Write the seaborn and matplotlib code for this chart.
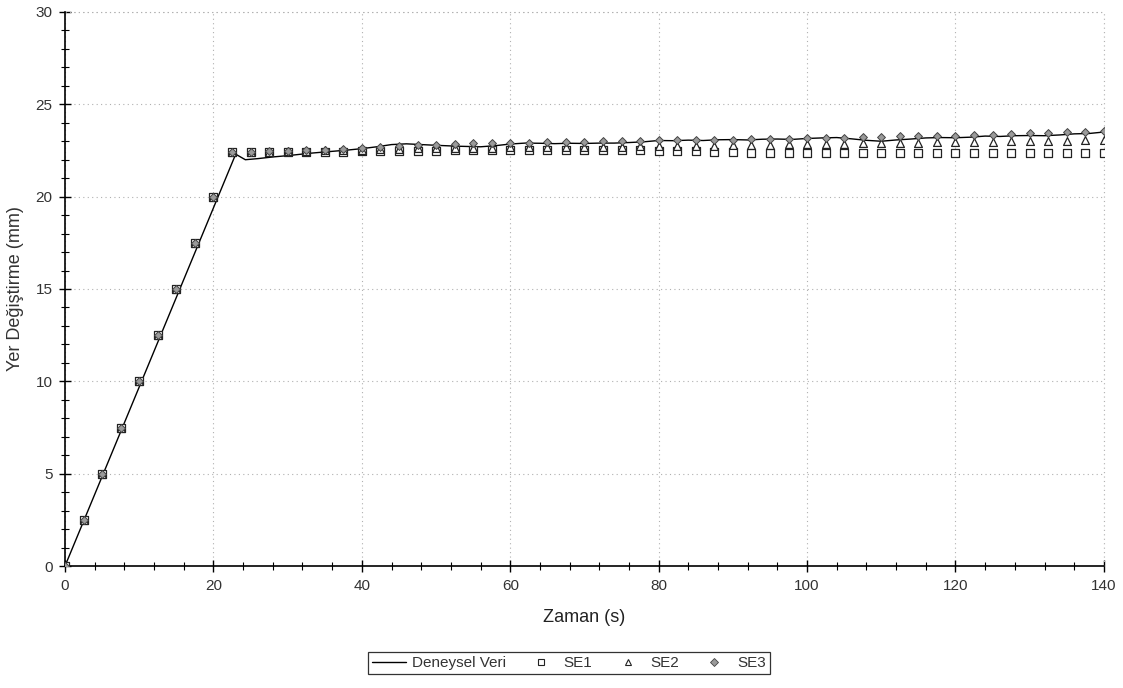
import numpy as np
import pandas as pd
import matplotlib
matplotlib.use("Agg")
import matplotlib.pyplot as plt
import seaborn as sns
from matplotlib.lines import Line2D
from matplotlib.ticker import MultipleLocator

# ---------------- data ----------------
t_markers = [0, 2.5, 5, 7.5, 10, 12.5, 15, 17.5, 20, 22.5, 25, 27.5, 30, 32.5, 35, 37.5,
             40, 42.5, 45, 47.5, 50, 52.5, 55, 57.5, 60, 62.5, 65, 67.5, 70, 72.5, 75,
             77.5, 80, 82.5, 85, 87.5, 90, 92.5, 95, 97.5, 100, 102.5, 105, 107.5, 110,
             112.5, 115, 117.5, 120, 122.5, 125, 127.5, 130, 132.5, 135, 137.5, 140]

ramp = [0, 2.5, 5, 7.5, 10, 12.5, 15, 17.5, 20]

se1_plateau = [22.40, 22.40, 22.40, 22.40, 22.42, 22.43, 22.44, 22.45, 22.46, 22.47,
               22.48, 22.49, 22.50, 22.50, 22.50, 22.50, 22.50, 22.50, 22.50, 22.50,
               22.50, 22.50, 22.50, 22.49, 22.47, 22.45, 22.43, 22.41, 22.39, 22.37,
               22.36, 22.35, 22.35, 22.35, 22.35, 22.35, 22.35, 22.35, 22.35, 22.35,
               22.35, 22.35, 22.35, 22.35, 22.35, 22.35, 22.35, 22.35]

se2_plateau = [22.40, 22.42, 22.44, 22.46, 22.48, 22.50, 22.52, 22.55, 22.57, 22.60,
               22.62, 22.63, 22.64, 22.65, 22.66, 22.67, 22.67, 22.68, 22.69, 22.70,
               22.70, 22.71, 22.72, 22.72, 22.73, 22.74, 22.76, 22.78, 22.80, 22.82,
               22.84, 22.85, 22.86, 22.87, 22.88, 22.90, 22.91, 22.92, 22.94, 22.95,
               22.96, 22.98, 22.99, 23.00, 23.02, 23.03, 23.05, 23.07]

se3_plateau = [22.40, 22.43, 22.46, 22.48, 22.51, 22.55, 22.60, 22.65, 22.70, 22.75,
               22.79, 22.82, 22.85, 22.88, 22.90, 22.92, 22.93, 22.95, 22.96, 22.98,
               22.99, 23.01, 23.03, 23.05, 23.06, 23.07, 23.08, 23.09, 23.10, 23.12,
               23.14, 23.16, 23.18, 23.20, 23.22, 23.24, 23.26, 23.27, 23.29, 23.31,
               23.33, 23.36, 23.39, 23.42, 23.45, 23.48, 23.51, 23.55]

exp_t = [0, 23.0, 24.3, 26, 28, 30, 33, 35, 38, 40, 42, 44, 46, 48, 50, 53, 56, 58,
         60, 62, 64, 66, 68, 70, 72, 74, 76, 78, 80, 82, 84, 86, 88, 90, 92, 94, 96,
         98, 100, 102, 104, 106, 108, 110, 112, 114, 116, 118, 120, 122, 124, 126,
         128, 130, 132, 134, 136, 138, 140]
exp_y = [0, 22.30, 22.00, 22.06, 22.15, 22.22, 22.35, 22.42, 22.52, 22.60, 22.70,
         22.82, 22.86, 22.82, 22.78, 22.73, 22.70, 22.76, 22.85, 22.90, 22.89, 22.87,
         22.89, 22.88, 22.90, 22.90, 22.93, 22.97, 23.04, 23.03, 23.06, 23.04, 23.08,
         23.09, 23.07, 23.11, 23.12, 23.10, 23.15, 23.18, 23.20, 23.13, 23.05, 23.00,
         23.07, 23.12, 23.18, 23.20, 23.19, 23.22, 23.28, 23.26, 23.30, 23.31, 23.30,
         23.34, 23.40, 23.42, 23.50]

x_ticks = [0, 20, 40, 60, 80, 100, 120, 140]
y_ticks = [0, 5, 10, 15, 20, 25, 30]
x_label = "Zaman (s)"
y_label = "Yer Değiştirme (mm)"
legend_labels = ["Deneysel Veri", "SE1", "SE2", "SE3"]

se1 = ramp + se1_plateau
se2 = ramp + se2_plateau
se3 = ramp + se3_plateau

# ---------------- plot ----------------
sns.set_theme(style="white")
plt.rcParams['font.family'] = ['Liberation Sans', 'DejaVu Sans']

fig = plt.figure(figsize=(11.23, 6.88), dpi=100)
ax = fig.add_axes([0.0579, 0.1773, 0.9251, 0.8053])

grid_color = "#b0b0b0"
grid_style = (0, (1, 3))

df_exp = pd.DataFrame({"t": exp_t, "y": exp_y})
sns.lineplot(data=df_exp, x="t", y="y", ax=ax, color="black", linewidth=1.0,
             sort=False, zorder=3)

df1 = pd.DataFrame({"t": t_markers, "y": se1})
df2 = pd.DataFrame({"t": t_markers, "y": se2})
df3 = pd.DataFrame({"t": t_markers, "y": se3})
sns.scatterplot(data=df1, x="t", y="y", ax=ax, marker="s", s=28,
                facecolor="white", edgecolor="#222222", linewidth=0.9, zorder=4)
sns.scatterplot(data=df2, x="t", y="y", ax=ax, marker="^", s=32,
                facecolor="white", edgecolor="#222222", linewidth=0.9, zorder=5)
sns.scatterplot(data=df3, x="t", y="y", ax=ax, marker="D", s=16,
                facecolor="#9a9a9a", edgecolor="#444444", linewidth=0.7, zorder=6)

ax.set_xlim(0, 140)
ax.set_ylim(0, 30)
ax.set_xticks(x_ticks)
ax.set_yticks(y_ticks)
ax.xaxis.set_minor_locator(MultipleLocator(4))
ax.yaxis.set_minor_locator(MultipleLocator(1))
ax.tick_params(axis="both", which="major", direction="inout", length=8, width=1,
               color="black", labelsize=11, labelcolor="#333333", pad=5)
ax.tick_params(axis="both", which="minor", direction="inout", length=6, width=0.8,
               color="black")
ax.tick_params(axis="x", which="both", bottom=True)
ax.tick_params(axis="y", which="both", left=True)

ax.grid(True, which="major", color=grid_color, linestyle=grid_style, linewidth=0.8)
for s in ["top", "right"]:
    ax.spines[s].set_visible(False)
for s in ["left", "bottom"]:
    ax.spines[s].set_color("black")
    ax.spines[s].set_linewidth(1.2)
ax.axhline(30, color=grid_color, linestyle=grid_style, linewidth=0.8, clip_on=False)
ax.axvline(140, color=grid_color, linestyle=grid_style, linewidth=0.8, clip_on=False)

ax.set_xlabel(x_label, fontsize=13, color="#222222", labelpad=12, fontweight="medium")
ax.set_ylabel(y_label, fontsize=13, color="#333333", labelpad=8)

handles = [
    Line2D([0], [0], color="black", linewidth=1.0),
    Line2D([0], [0], marker="s", linestyle="", markersize=5, markerfacecolor="white",
           markeredgecolor="#222222", markeredgewidth=0.8),
    Line2D([0], [0], marker="^", linestyle="", markersize=5, markerfacecolor="white",
           markeredgecolor="#222222", markeredgewidth=0.8),
    Line2D([0], [0], marker="D", linestyle="", markersize=4, markerfacecolor="#9a9a9a",
           markeredgecolor="#444444", markeredgewidth=0.6),
]
leg = fig.legend(handles, legend_labels, loc="center", bbox_to_anchor=(569 / 1123, 1 - 663 / 688),
                 ncol=4, frameon=True, fancybox=False, edgecolor="black", fontsize=11,
                 handlelength=2.2, handletextpad=0.4, columnspacing=1.2,
                 borderpad=0.25, labelcolor="#333333")
leg.get_frame().set_linewidth(0.9)

fig.savefig("out.png", dpi=100, facecolor="white")
